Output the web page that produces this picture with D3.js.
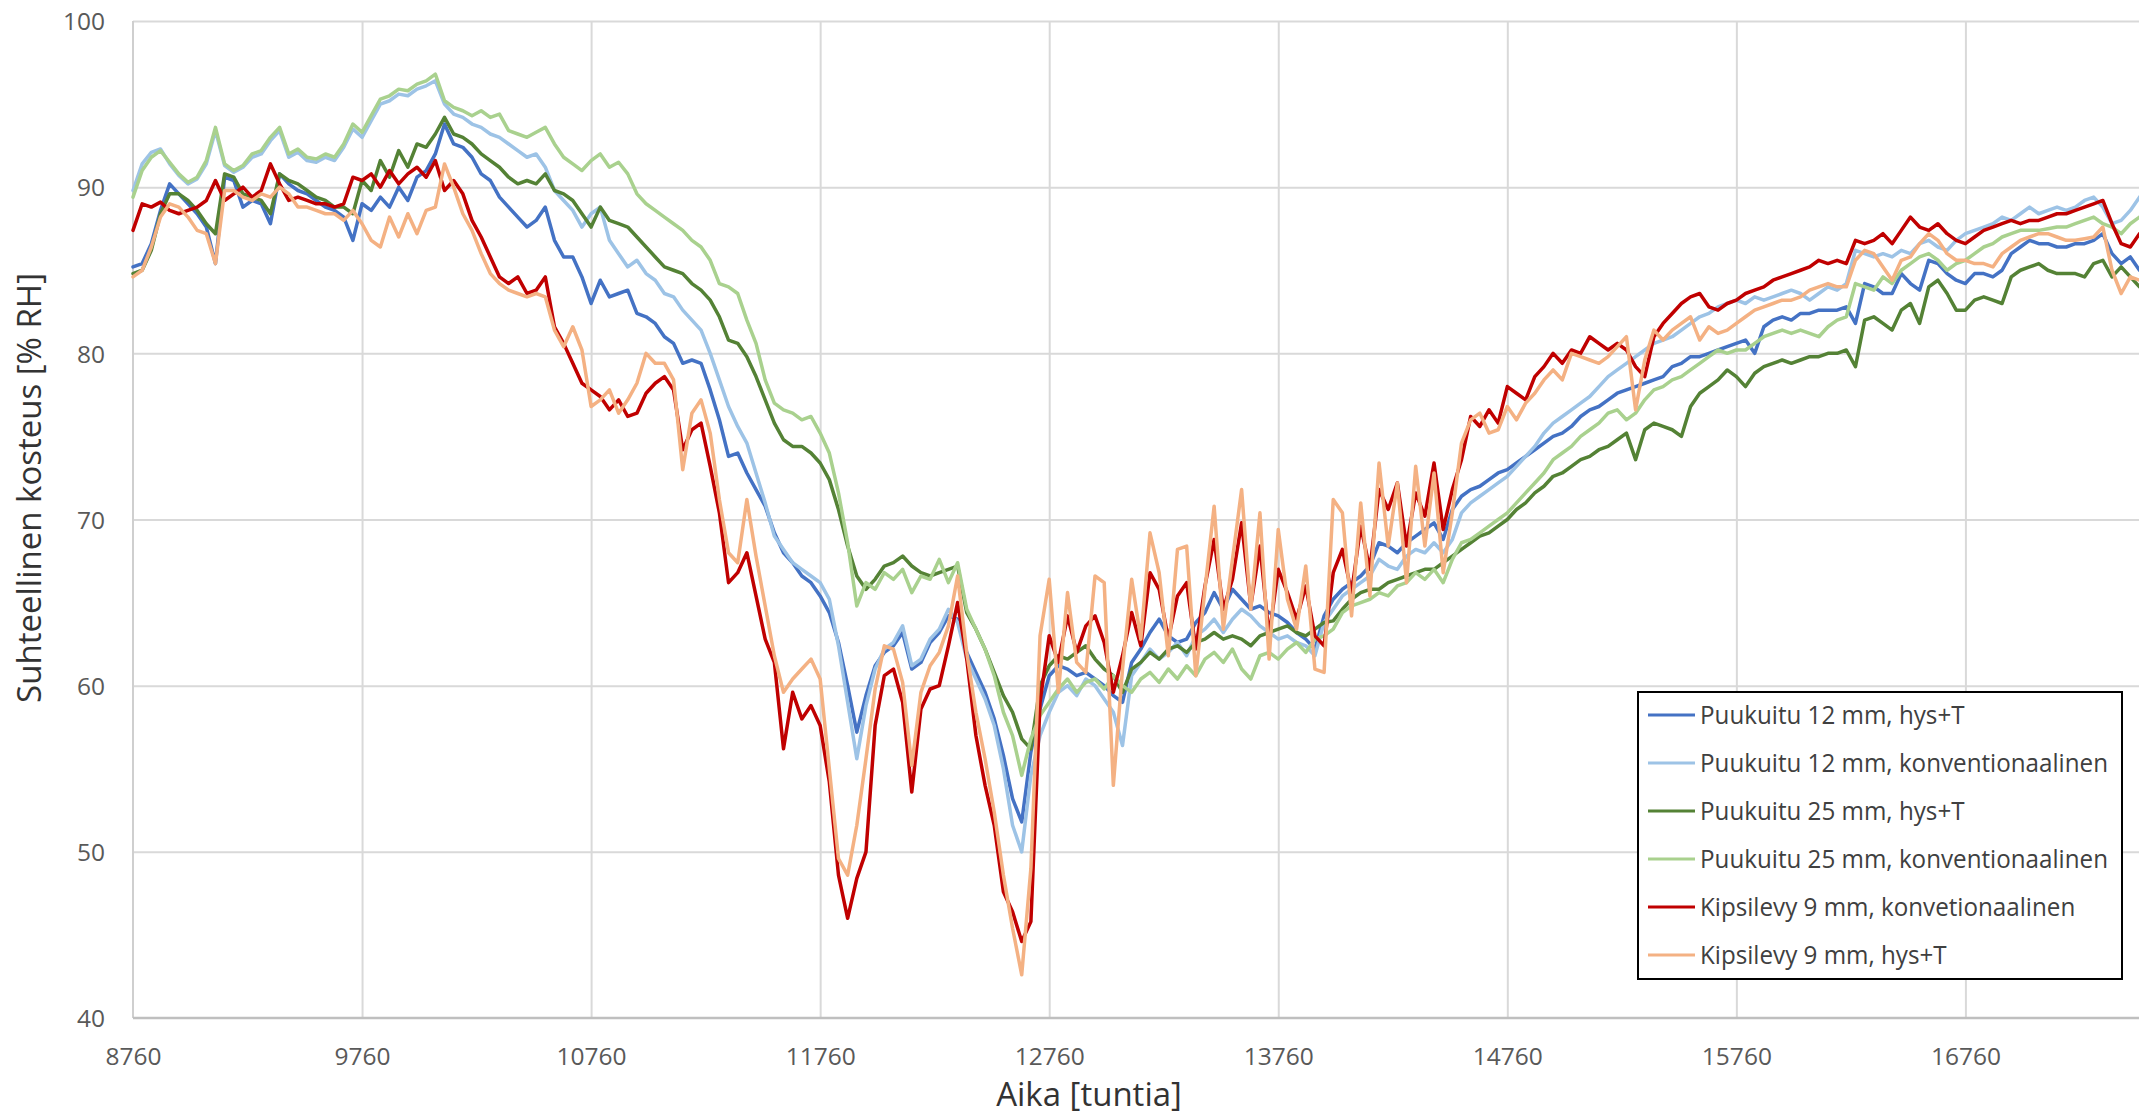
<!DOCTYPE html>
<html>
<head>
<meta charset="utf-8">
<script src="https://cdn.jsdelivr.net/npm/d3@7/dist/d3.min.js"></script>
<style>
  html, body { margin: 0; padding: 0; background: #ffffff; overflow: hidden; }
  svg { display: block; }
</style>
</head>
<body>
<svg id="chart" width="2139" height="1117"></svg>
<script>
// Hourly simulation output sampled every 40 hours, from hour 8760 to 17520
const startHour = 8760;
const stepHour = 40;

const xTickValues = [8760, 9760, 10760, 11760, 12760, 13760, 14760, 15760, 16760];
const yTickValues = [40, 50, 60, 70, 80, 90, 100];

const seriesNames = [
  "Puukuitu 12 mm, hys+T",
  "Puukuitu 12 mm, konventionaalinen",
  "Puukuitu 25 mm, hys+T",
  "Puukuitu 25 mm, konventionaalinen",
  "Kipsilevy 9 mm, konvetionaalinen",
  "Kipsilevy 9 mm, hys+T"
];
const seriesColors = ["#4472C4", "#9DC3E6", "#548235", "#A9D18E", "#C00000", "#F4B183"];

// Relative humidity [% RH]
const puukuitu12Hys = [
  85.2, 85.4, 86.6, 88.6, 90.2, 89.6, 89.0, 88.4, 87.6, 85.4,
  90.6, 90.4, 88.8, 89.2, 89.0, 87.8, 90.8, 90.2, 89.8, 89.6,
  89.2, 88.8, 88.6, 88.2, 86.8, 89.0, 88.6, 89.4, 88.8, 90.0,
  89.2, 90.6, 91.0, 92.0, 93.8, 92.6, 92.4, 91.8, 90.8, 90.4,
  89.4, 88.8, 88.2, 87.6, 88.0, 88.8, 86.8, 85.8, 85.8, 84.6,
  83.0, 84.4, 83.4, 83.6, 83.8, 82.4, 82.2, 81.8, 81.0, 80.6,
  79.4, 79.6, 79.4, 77.8, 76.0, 73.8, 74.0, 72.8, 71.8, 70.8,
  69.2, 68.0, 67.4, 66.6, 66.2, 65.4, 64.4, 62.6, 60.0, 57.2,
  59.4, 61.2, 62.0, 62.4, 63.2, 61.0, 61.4, 62.6, 63.2, 64.2,
  64.0, 62.0, 60.8, 59.6, 58.0, 55.8, 53.2, 51.8, 56.0, 58.6,
  60.6, 61.2, 61.0, 60.6, 60.8, 60.4, 60.0, 59.4, 59.0, 61.4,
  62.2, 63.2, 64.0, 63.0, 62.6, 62.8, 63.8, 64.4, 65.6, 64.6,
  65.8, 65.2, 64.6, 64.8, 64.4, 64.2, 63.8, 63.2, 62.8, 62.2,
  64.2, 65.2, 65.8, 66.2, 66.6, 67.2, 68.6, 68.4, 68.0, 68.6,
  69.0, 69.4, 69.8, 68.8, 70.6, 71.4, 71.8, 72.0, 72.4, 72.8,
  73.0, 73.4, 73.8, 74.2, 74.6, 75.0, 75.2, 75.6, 76.2, 76.6,
  76.8, 77.2, 77.6, 77.8, 78.0, 78.2, 78.4, 78.6, 79.2, 79.4,
  79.8, 79.8, 80.0, 80.2, 80.4, 80.6, 80.8, 80.0, 81.6, 82.0,
  82.2, 82.0, 82.4, 82.4, 82.6, 82.6, 82.6, 82.8, 81.8, 84.2,
  84.0, 83.6, 83.6, 84.8, 84.2, 83.8, 85.6, 85.4, 84.8, 84.4,
  84.2, 84.8, 84.8, 84.6, 85.0, 86.0, 86.4, 86.8, 86.6, 86.6,
  86.4, 86.4, 86.6, 86.6, 86.8, 87.2, 86.0, 85.4, 85.8, 85.0
];

const puukuitu12Konv = [
  89.8, 91.4, 92.1, 92.3, 91.4, 90.7, 90.2, 90.5, 91.4, 93.4,
  91.3, 90.9, 91.2, 91.8, 92.0, 92.8, 93.4, 91.8, 92.1, 91.6,
  91.5, 91.8, 91.6, 92.4, 93.5, 93.0, 94.0, 95.0, 95.2, 95.6,
  95.5, 95.9, 96.1, 96.4, 95.0, 94.4, 94.2, 93.8, 93.6, 93.2,
  93.0, 92.6, 92.2, 91.8, 92.0, 91.2, 89.8, 89.2, 88.6, 87.6,
  88.4, 88.8, 86.8, 86.0, 85.2, 85.6, 84.8, 84.4, 83.6, 83.4,
  82.6, 82.0, 81.4, 80.0, 78.4, 76.8, 75.6, 74.6, 72.8, 71.0,
  69.0, 68.2, 67.4, 67.0, 66.6, 66.2, 65.2, 62.4, 59.0, 55.6,
  58.8, 61.0, 62.2, 62.6, 63.6, 61.2, 61.6, 62.8, 63.4, 64.6,
  63.8, 61.6, 60.4, 59.2, 57.6, 55.0, 51.6, 50.0, 54.6, 57.0,
  58.4, 59.6, 60.0, 59.4, 60.4, 60.0, 59.2, 58.4, 56.4, 60.6,
  61.4, 62.2, 61.6, 62.0, 62.6, 61.8, 63.0, 63.4, 64.0, 63.2,
  64.0, 64.6, 64.2, 63.6, 63.2, 62.8, 63.0, 62.6, 62.4, 61.8,
  63.8, 64.6, 65.4, 65.8, 66.2, 66.6, 67.6, 67.2, 67.0, 67.8,
  68.2, 68.0, 68.6, 68.0, 68.8, 70.4, 71.0, 71.4, 71.8, 72.2,
  72.6, 73.2, 73.8, 74.4, 75.2, 75.8, 76.2, 76.6, 77.0, 77.4,
  78.0, 78.6, 79.0, 79.4, 79.8, 80.2, 80.6, 80.8, 81.0, 81.4,
  81.8, 82.2, 82.4, 82.8, 83.0, 83.2, 83.0, 83.4, 83.2, 83.4,
  83.6, 83.8, 83.6, 83.2, 83.6, 84.0, 83.8, 84.2, 86.2, 86.0,
  85.8, 86.0, 85.8, 86.2, 86.0, 86.6, 86.8, 86.4, 86.2, 86.8,
  87.2, 87.4, 87.6, 87.8, 88.2, 88.0, 88.4, 88.8, 88.4, 88.6,
  88.8, 88.6, 88.8, 89.2, 89.4, 88.8, 87.8, 88.0, 88.6, 89.4
];

const puukuitu25Hys = [
  84.8, 85.0, 86.2, 88.4, 89.6, 89.6, 89.2, 88.6, 87.8, 87.2,
  90.8, 90.6, 89.6, 89.4, 89.2, 88.4, 90.8, 90.4, 90.2, 89.8,
  89.4, 89.2, 88.8, 88.8, 88.4, 90.4, 89.8, 91.6, 90.6, 92.2,
  91.2, 92.6, 92.4, 93.2, 94.2, 93.2, 93.0, 92.6, 92.0, 91.6,
  91.2, 90.6, 90.2, 90.4, 90.2, 90.8, 89.8, 89.6, 89.2, 88.4,
  87.6, 88.8, 88.0, 87.8, 87.6, 87.0, 86.4, 85.8, 85.2, 85.0,
  84.8, 84.2, 83.8, 83.2, 82.2, 80.8, 80.6, 79.8, 78.6, 77.2,
  75.8, 74.8, 74.4, 74.4, 74.0, 73.4, 72.4, 70.6, 68.4, 66.6,
  65.8, 66.4, 67.2, 67.4, 67.8, 67.2, 66.8, 66.6, 66.8, 67.0,
  67.2, 64.4, 63.4, 62.2, 60.8, 59.4, 58.4, 56.8, 56.2, 60.0,
  61.2, 61.8, 61.6, 62.0, 62.4, 61.6, 61.0, 60.6, 59.6, 61.0,
  61.4, 62.0, 61.6, 62.2, 62.4, 62.0, 62.6, 62.8, 63.2, 62.8,
  63.0, 62.8, 62.4, 63.0, 63.2, 63.4, 63.6, 63.2, 63.0, 63.4,
  63.8, 63.9, 64.6, 65.2, 65.6, 65.8, 65.8, 66.2, 66.4, 66.6,
  66.8, 67.0, 67.0, 67.4, 67.8, 68.2, 68.6, 69.0, 69.2, 69.6,
  70.0, 70.6, 71.0, 71.6, 72.0, 72.6, 72.8, 73.2, 73.6, 73.8,
  74.2, 74.4, 74.8, 75.2, 73.6, 75.4, 75.8, 75.6, 75.4, 75.0,
  76.8, 77.6, 78.0, 78.4, 79.0, 78.6, 78.0, 78.8, 79.2, 79.4,
  79.6, 79.4, 79.6, 79.8, 79.8, 80.0, 80.0, 80.2, 79.2, 82.0,
  82.2, 81.8, 81.4, 82.6, 83.0, 81.8, 84.0, 84.4, 83.6, 82.6,
  82.6, 83.2, 83.4, 83.2, 83.0, 84.6, 85.0, 85.2, 85.4, 85.0,
  84.8, 84.8, 84.8, 84.6, 85.4, 85.6, 84.6, 85.2, 84.6, 84.0
];

const puukuitu25Konv = [
  89.4, 91.0, 91.8, 92.2, 91.5, 90.8, 90.3, 90.6, 91.6, 93.6,
  91.4, 91.0, 91.3, 92.0, 92.2, 93.0, 93.6, 92.0, 92.3, 91.8,
  91.7, 92.0, 91.8, 92.6, 93.8, 93.3, 94.3, 95.3, 95.5, 95.9,
  95.8, 96.2, 96.4, 96.8, 95.2, 94.8, 94.6, 94.3, 94.6, 94.2,
  94.4, 93.4, 93.2, 93.0, 93.3, 93.6, 92.6, 91.8, 91.4, 91.0,
  91.6, 92.0, 91.2, 91.5, 90.8, 89.6, 89.0, 88.6, 88.2, 87.8,
  87.4, 86.8, 86.4, 85.6, 84.2, 84.0, 83.6, 82.0, 80.6, 78.4,
  77.0, 76.6, 76.4, 76.0, 76.2, 75.2, 74.0, 71.6, 68.6, 64.8,
  66.2, 65.8, 66.8, 66.4, 67.0, 65.6, 66.6, 66.4, 67.6, 66.2,
  67.4, 64.6, 63.4, 62.2, 60.6, 58.4, 57.0, 54.6, 56.8, 58.2,
  59.0, 59.8, 60.4, 59.6, 60.2, 60.4, 59.8, 60.6, 60.0, 59.6,
  60.4, 60.8, 60.2, 61.0, 60.4, 61.2, 60.6, 61.6, 62.0, 61.4,
  62.2, 61.0, 60.4, 61.8, 62.0, 61.6, 62.2, 62.6, 62.0, 62.8,
  63.0, 63.4, 64.4, 64.8, 65.0, 65.2, 65.6, 65.4, 66.0, 66.2,
  66.8, 66.4, 67.0, 66.2, 67.6, 68.6, 68.8, 69.2, 69.6, 70.0,
  70.4, 71.0, 71.6, 72.2, 72.8, 73.6, 74.0, 74.4, 75.0, 75.4,
  75.8, 76.4, 76.6, 76.0, 76.4, 77.2, 77.8, 78.0, 78.4, 78.6,
  79.0, 79.4, 79.8, 80.2, 80.0, 80.2, 80.2, 80.6, 81.0, 81.2,
  81.4, 81.2, 81.4, 81.2, 81.0, 81.6, 82.0, 82.2, 84.2, 84.0,
  83.8, 84.6, 84.2, 85.0, 85.4, 85.8, 86.0, 85.6, 85.0, 85.4,
  85.6, 86.0, 86.4, 86.6, 87.0, 87.2, 87.4, 87.4, 87.4, 87.5,
  87.6, 87.6, 87.8, 88.0, 88.2, 87.8, 87.6, 87.2, 87.8, 88.2
];

const kipsilevy9Konv = [
  87.4, 89.0, 88.8, 89.1, 88.6, 88.4, 88.6, 88.8, 89.2, 90.4,
  89.2, 89.6, 90.0, 89.4, 89.8, 91.4, 90.2, 89.2, 89.4, 89.2,
  89.0, 89.0, 88.8, 89.0, 90.6, 90.4, 90.8, 90.0, 91.0, 90.2,
  90.8, 91.2, 90.6, 91.6, 89.8, 90.4, 89.6, 88.0, 87.0, 85.8,
  84.6, 84.2, 84.6, 83.6, 83.8, 84.6, 81.6, 80.6, 79.4, 78.2,
  77.8, 77.4, 76.6, 77.2, 76.2, 76.4, 77.6, 78.2, 78.6, 77.8,
  74.2, 75.4, 75.8, 73.2, 70.4, 66.2, 66.8, 68.0, 65.4, 62.8,
  61.4, 56.2, 59.6, 58.0, 58.8, 57.6, 54.2, 48.6, 46.0, 48.4,
  50.0, 57.6, 60.6, 61.0, 59.0, 53.6, 58.6, 59.8, 60.0, 62.4,
  65.0, 61.6, 57.0, 54.0, 51.6, 47.6, 46.4, 44.6, 45.8, 59.0,
  63.0, 61.4, 64.2, 62.0, 63.6, 64.2, 62.6, 59.6, 61.8, 64.4,
  62.4, 66.8, 65.8, 62.8, 65.4, 66.2, 62.2, 66.0, 68.8, 64.6,
  66.4, 69.8, 64.8, 68.4, 63.0, 67.0, 65.6, 64.0, 66.0, 63.0,
  62.4, 66.8, 68.2, 65.6, 69.6, 67.0, 71.8, 70.6, 72.2, 68.4,
  71.6, 70.2, 73.4, 69.4, 71.8, 73.6, 76.2, 75.6, 76.6, 75.8,
  78.0, 77.6, 77.2, 78.6, 79.2, 80.0, 79.4, 80.2, 80.0, 81.0,
  80.6, 80.2, 80.6, 80.2, 79.2, 78.6, 81.0, 81.8, 82.4, 83.0,
  83.4, 83.6, 82.8, 82.6, 83.0, 83.2, 83.6, 83.8, 84.0, 84.4,
  84.6, 84.8, 85.0, 85.2, 85.6, 85.4, 85.6, 85.4, 86.8, 86.6,
  86.8, 87.2, 86.6, 87.4, 88.2, 87.6, 87.4, 87.8, 87.2, 86.8,
  86.6, 87.0, 87.4, 87.6, 87.8, 88.0, 87.8, 88.0, 88.0, 88.2,
  88.4, 88.4, 88.6, 88.8, 89.0, 89.2, 87.8, 86.6, 86.4, 87.2
];

const kipsilevy9Hys = [
  84.6, 85.0, 86.4, 88.2, 89.0, 88.8, 88.2, 87.4, 87.2, 85.4,
  89.8, 89.8, 89.4, 89.2, 89.6, 89.4, 90.0, 89.6, 88.8, 88.8,
  88.6, 88.4, 88.4, 88.0, 88.6, 87.8, 86.8, 86.4, 88.2, 87.0,
  88.4, 87.2, 88.6, 88.8, 91.4, 90.0, 88.4, 87.4, 86.0, 84.8,
  84.2, 83.8, 83.6, 83.4, 83.6, 83.4, 81.4, 80.4, 81.6, 80.2,
  76.8, 77.2, 77.8, 76.4, 77.2, 78.2, 80.0, 79.4, 79.4, 78.4,
  73.0, 76.4, 77.2, 75.2, 71.2, 68.0, 67.4, 71.2, 67.8, 64.8,
  61.8, 59.6, 60.4, 61.0, 61.6, 60.4, 55.0, 49.6, 48.6, 51.6,
  55.6, 59.8, 62.4, 62.2, 60.2, 55.2, 59.6, 61.2, 62.0, 63.6,
  66.6, 62.0, 58.4, 55.6, 52.4, 48.6, 45.4, 42.6, 49.0, 63.0,
  66.4, 59.6, 65.6, 61.4, 60.8, 66.6, 66.2, 54.0, 61.0, 66.4,
  62.8, 69.2, 66.8, 61.8, 68.2, 68.4, 60.6, 65.8, 70.8, 63.4,
  67.6, 71.8, 64.6, 70.4, 61.6, 69.4, 65.2, 63.4, 67.2, 61.0,
  60.8, 71.2, 70.4, 64.2, 71.0, 65.4, 73.4, 68.4, 72.2, 66.2,
  73.2, 68.4, 72.8, 66.8, 70.4, 74.6, 76.0, 76.4, 75.2, 75.4,
  76.8, 76.0, 77.0, 77.6, 78.4, 79.0, 78.4, 80.0, 79.8, 79.6,
  79.4, 79.8, 80.4, 81.0, 76.6, 79.6, 81.4, 80.8, 81.4, 81.8,
  82.2, 80.8, 81.6, 81.2, 81.4, 81.8, 82.2, 82.6, 82.8, 83.0,
  83.2, 83.2, 83.4, 83.8, 84.0, 84.2, 84.0, 84.0, 85.6, 86.2,
  86.0, 85.2, 84.4, 85.6, 85.8, 86.6, 87.2, 86.8, 86.0, 85.6,
  85.6, 85.4, 85.4, 85.2, 86.0, 86.4, 86.8, 87.0, 87.2, 87.2,
  87.0, 86.8, 86.8, 86.9, 87.0, 87.6, 85.0, 83.6, 84.6, 84.4
];

const seriesValues = [
  puukuitu12Hys, puukuitu12Konv, puukuitu25Hys,
  puukuitu25Konv, kipsilevy9Konv, kipsilevy9Hys
];

// ---- layout ----
const svg = d3.select("#chart");
const plot = { left: 133, top: 21, right: 2139.5, bottom: 1018 };
const FONT = "'Open Sans', 'Noto Sans', sans-serif";

const x = d3.scaleLinear().domain([8760, 17520]).range([plot.left, plot.right]);
const y = d3.scaleLinear().domain([40, 100]).range([plot.bottom, plot.top]);

// horizontal gridlines
svg.append("g")
  .attr("transform", `translate(${plot.left},0)`)
  .call(d3.axisLeft(y).tickValues(yTickValues.filter(v => v > 40))
    .tickSize(-(plot.right - plot.left)).tickFormat(""))
  .call(g => g.select(".domain").remove())
  .call(g => g.selectAll("line").attr("stroke", "#D9D9D9").attr("stroke-width", 2));

// vertical gridlines
svg.append("g")
  .attr("transform", `translate(0,${plot.bottom})`)
  .call(d3.axisBottom(x).tickValues(xTickValues.filter(v => v > 8760))
    .tickSize(-(plot.bottom - plot.top)).tickFormat(""))
  .call(g => g.select(".domain").remove())
  .call(g => g.selectAll("line").attr("stroke", "#D9D9D9").attr("stroke-width", 2));

// axis lines
svg.append("line")
  .attr("x1", plot.left).attr("x2", plot.left)
  .attr("y1", plot.top).attr("y2", plot.bottom)
  .attr("stroke", "#CFCFCF").attr("stroke-width", 2);
svg.append("line")
  .attr("x1", plot.left).attr("x2", plot.right)
  .attr("y1", plot.bottom).attr("y2", plot.bottom)
  .attr("stroke", "#BFBFBF").attr("stroke-width", 2.5);

// tick labels
const tickFont = 24.5;
svg.append("g")
  .attr("transform", `translate(${plot.left},0)`)
  .call(d3.axisLeft(y).tickValues(yTickValues).tickSize(0).tickPadding(28))
  .call(g => g.select(".domain").remove())
  .call(g => g.selectAll("text")
    .attr("font-family", FONT).attr("font-size", tickFont)
    .attr("fill", "#595959").attr("dy", "0.36em"));

svg.append("g")
  .attr("transform", `translate(0,${plot.bottom})`)
  .call(d3.axisBottom(x).tickValues(xTickValues).tickSize(0).tickPadding(0).tickFormat(d3.format("d")))
  .call(g => g.select(".domain").remove())
  .call(g => g.selectAll("text")
    .attr("font-family", FONT).attr("font-size", tickFont)
    .attr("fill", "#595959").attr("y", 38).attr("dy", "0.36em"));

// axis titles
svg.append("text")
  .attr("x", 1089).attr("y", 1106)
  .attr("text-anchor", "middle")
  .attr("font-family", FONT).attr("font-size", 33)
  .attr("fill", "#333333")
  .text("Aika [tuntia]");

svg.append("text")
  .attr("transform", "translate(41,488) rotate(-90)")
  .attr("text-anchor", "middle")
  .attr("font-family", FONT).attr("font-size", 33)
  .attr("fill", "#333333")
  .text("Suhteellinen kosteus [% RH]");

// series lines
const line = d3.line()
  .x((d, i) => x(startHour + i * stepHour))
  .y(d => y(d));

svg.append("g")
  .selectAll("path")
  .data(seriesValues)
  .join("path")
  .attr("d", d => line(d))
  .attr("fill", "none")
  .attr("stroke", (d, i) => seriesColors[i])
  .attr("stroke-width", 3.5)
  .attr("stroke-linejoin", "round")
  .attr("stroke-linecap", "round");

// legend
const legend = svg.append("g");
legend.append("rect")
  .attr("x", 1638).attr("y", 692)
  .attr("width", 484).attr("height", 287)
  .attr("fill", "#ffffff").attr("stroke", "#000000").attr("stroke-width", 2);

const legendFont = 25;
const rows = legend.selectAll("g.row")
  .data(seriesNames)
  .join("g")
  .attr("class", "row")
  .attr("transform", (d, i) => `translate(0,${715 + i * 48})`);

rows.append("line")
  .attr("x1", 1648).attr("x2", 1695)
  .attr("y1", 0).attr("y2", 0)
  .attr("stroke", (d, i) => seriesColors[i])
  .attr("stroke-width", 3);

// labels slightly condensed horizontally so the longest one fits the box
rows.append("text")
  .attr("transform", "translate(1700,0) scale(0.968,1)")
  .attr("x", 0).attr("y", 0).attr("dy", "0.36em")
  .attr("font-family", FONT).attr("font-size", legendFont)
  .attr("fill", "#404040")
  .text(d => d);
</script>
</body>
</html>
